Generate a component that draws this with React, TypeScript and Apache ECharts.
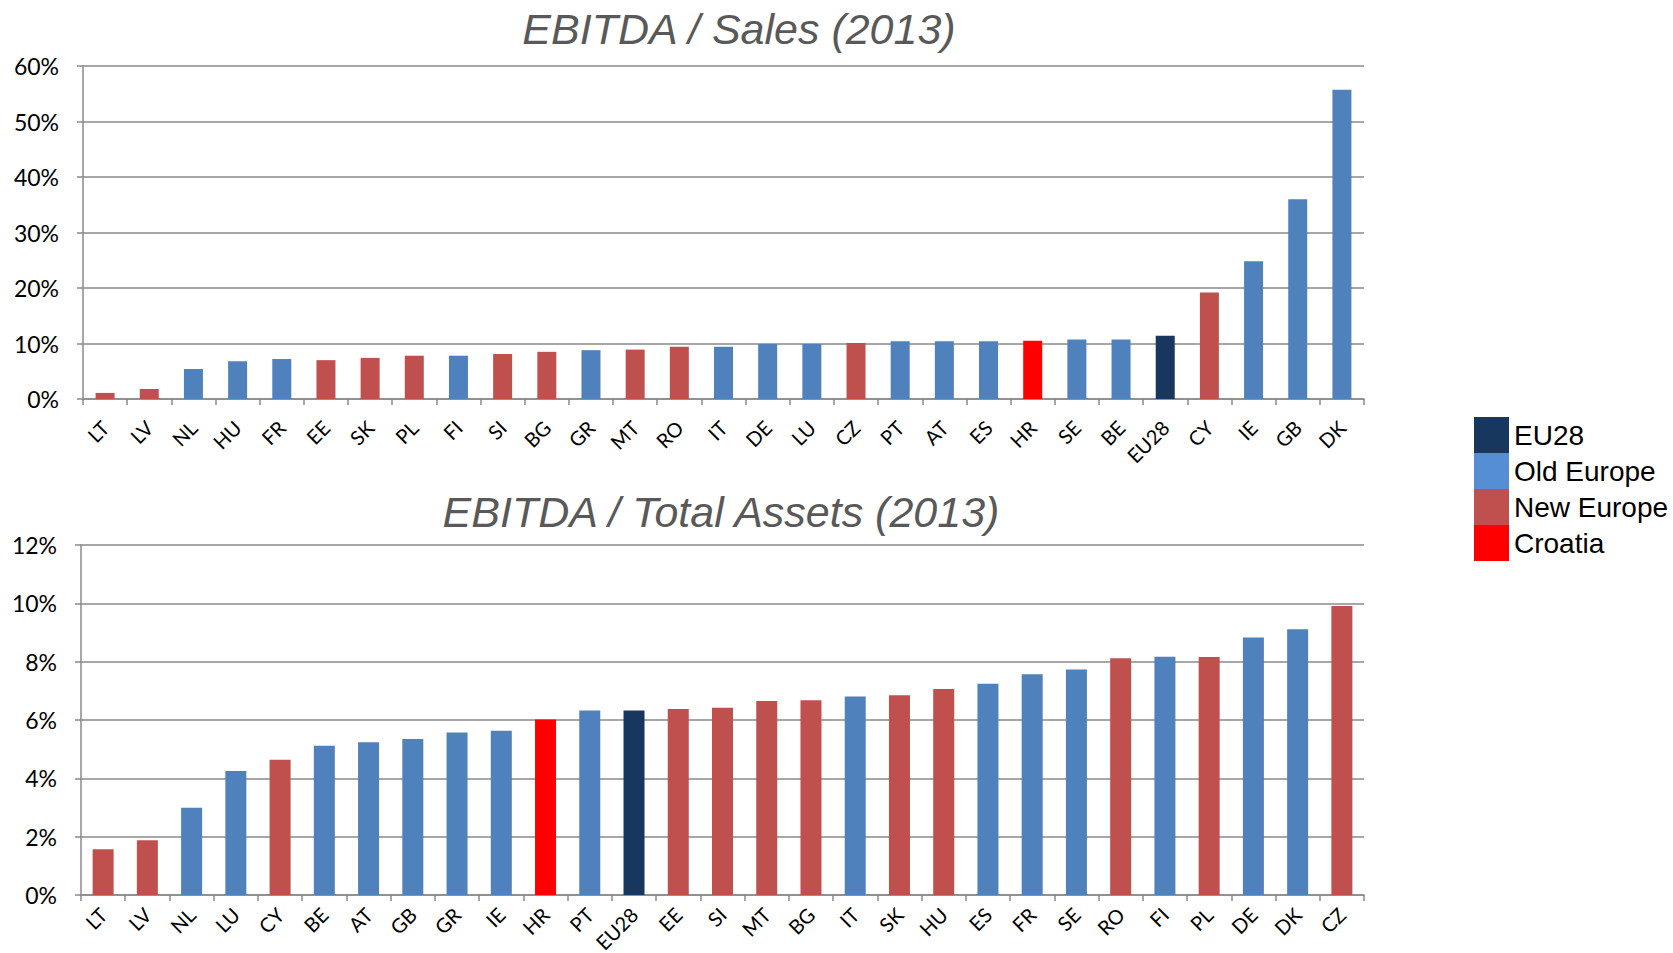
import React, { useEffect, useRef } from "react";
import * as echarts from "echarts";

const topCategories = ["LT","LV","NL","HU","FR","EE","SK","PL","FI","SI","BG","GR","MT","RO","IT","DE","LU","CZ","PT","AT","ES","HR","SE","BE","EU28","CY","IE","GB","DK"];
const topValues = [1.1,1.8,5.4,6.8,7.2,7.0,7.4,7.8,7.8,8.1,8.5,8.8,8.9,9.4,9.4,9.9,9.9,10.1,10.4,10.4,10.4,10.5,10.7,10.7,11.4,19.2,24.8,36.0,55.7];
const topGroups = ["N","N","O","O","O","N","N","N","O","N","N","O","N","N","O","O","O","N","O","O","O","C","O","O","E","N","O","O","O"];

const bottomCategories = ["LT","LV","NL","LU","CY","BE","AT","GB","GR","IE","HR","PT","EU28","EE","SI","MT","BG","IT","SK","HU","ES","FR","SE","RO","FI","PL","DE","DK","CZ"];
const bottomValues = [1.57,1.88,2.99,4.25,4.64,5.12,5.24,5.35,5.57,5.63,6.02,6.33,6.33,6.38,6.42,6.65,6.68,6.81,6.85,7.06,7.24,7.57,7.73,8.12,8.17,8.16,8.83,9.11,9.91];
const bottomGroups = ["N","N","O","O","N","O","O","O","O","O","C","O","E","N","N","N","N","O","N","N","O","O","O","N","O","N","O","O","N"];

const groupKeys = ["E","O","N","C"];
const groupNames = ["EU28","Old Europe","New Europe","Croatia"];
const barColors = ["#17375E","#4F81BD","#C0504D","#FF0000"];
const legendColors = ["#17375E","#558ED5","#C0504D","#FF0000"];

const topTitle = "EBITDA / Sales (2013)";
const bottomTitle = "EBITDA / Total Assets (2013)";

const gridColor = "#8a8a8a";
const labelFont = "Lato, 'Noto Sans', sans-serif";

function makeSeries(values: number[], groups: string[], axisIndex: number, barWidth: number) {
  return groupKeys.map((g, gi) => ({
    name: groupNames[gi],
    type: "bar",
    xAxisIndex: axisIndex,
    yAxisIndex: axisIndex,
    stack: "s" + axisIndex,
    barWidth,
    itemStyle: { color: barColors[gi] },
    data: values.map((v, i) => (groups[i] === g ? v : "-")),
  }));
}

function xAxis(cats: string[], gridIndex: number, margin: number) {
  return {
    type: "category",
    gridIndex,
    data: cats,
    axisLine: { lineStyle: { color: gridColor, width: 1.5 } },
    axisTick: { show: true, length: 6, lineStyle: { color: gridColor, width: 1.5 } },
    axisLabel: {
      rotate: 45,
      interval: 0,
      margin,
      color: "#000",
      fontSize: 20,
      fontFamily: labelFont,
    },
  };
}

function yAxis(max: number, interval: number, gridIndex: number) {
  return {
    type: "value",
    gridIndex,
    min: 0,
    max,
    interval,
    axisLine: { show: true, lineStyle: { color: gridColor, width: 1.5 } },
    axisTick: { show: true, length: 6, lineStyle: { color: gridColor, width: 1.5 } },
    splitLine: { lineStyle: { color: gridColor, width: 1.5 } },
    axisLabel: {
      formatter: (v: number) => `${Math.round(v)}%`,
      margin: 24,
      color: "#000",
      fontSize: 23,
      fontFamily: labelFont,
    },
  };
}

export default function App() {
  const ref = useRef<HTMLDivElement>(null);
  useEffect(() => {
    if (!ref.current) return;
    const chart = echarts.init(ref.current, null, { renderer: "svg" });
    const titleStyle = {
      fontFamily: "'Liberation Sans', Arial, sans-serif",
      fontStyle: "italic",
      fontWeight: "normal",
      fontSize: 43,
      color: "#595959",
    };
    chart.setOption({
      animation: false,
      backgroundColor: "#fff",
      title: [
        { text: topTitle, left: 734, top: 2, textAlign: "center", textStyle: titleStyle },
        { text: bottomTitle, left: 716, top: 485, textAlign: "center", textStyle: titleStyle },
      ],
      legend: {
        orient: "vertical",
        left: 1469,
        top: 412,
        itemWidth: 35,
        itemHeight: 36,
        itemGap: 0,
        icon: "rect",
        textStyle: {
          fontFamily: "'Liberation Sans', Arial, sans-serif",
          fontSize: 28,
          color: "#000",
          padding: [0, 0, 0, 0],
        },
        data: groupNames.map((n, i) => ({ name: n, itemStyle: { color: legendColors[i] } })),
      },
      grid: [
        { left: 83, right: 309, top: 66, height: 333, outerBoundsMode: "none" },
        { left: 81, right: 309, top: 545, height: 350, outerBoundsMode: "none" },
      ],
      xAxis: [xAxis(topCategories, 0, 25), xAxis(bottomCategories, 1, 16)],
      yAxis: [yAxis(60, 10, 0), yAxis(12, 2, 1)],
      series: [
        ...makeSeries(topValues, topGroups, 0, 19),
        ...makeSeries(bottomValues, bottomGroups, 1, 21),
      ],
    });
    return () => chart.dispose();
  }, []);
  return (
    <div
      ref={ref}
      style={{ position: "fixed", left: 0, top: 0, width: 1673, height: 953, background: "#fff" }}
    />
  );
}
